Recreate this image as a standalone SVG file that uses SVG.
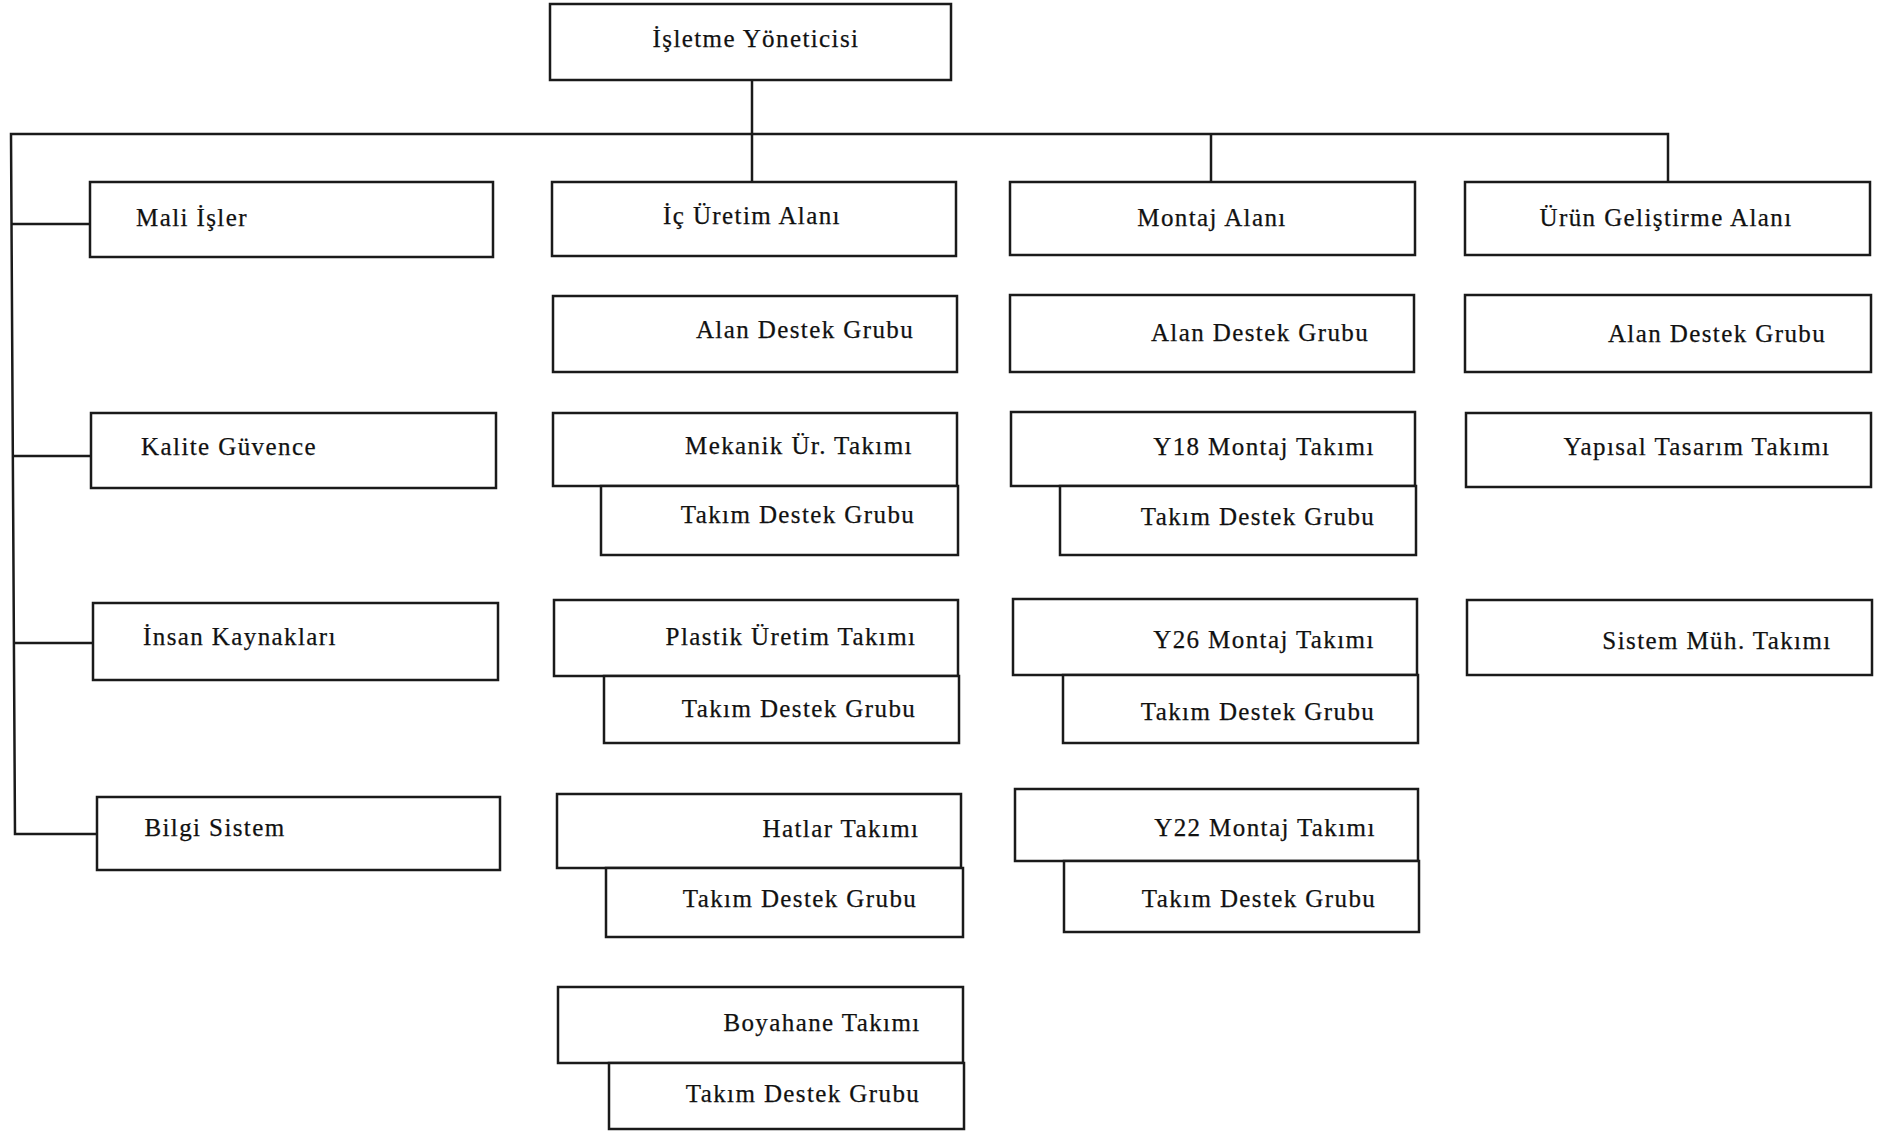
<svg xmlns="http://www.w3.org/2000/svg" width="1881" height="1131" viewBox="0 0 1881 1131">
  <style>
    .box { fill: #ffffff; stroke: #1a1a1a; stroke-width: 2.5; }
    .wire { fill: none; stroke: #1a1a1a; stroke-width: 2.5; stroke-linejoin: miter; }
    .lbl { font-family: "Liberation Serif", "Times New Roman", serif; font-size: 25px; letter-spacing: 1.4px; fill: #111111; stroke: #111111; stroke-width: 0.25; text-anchor: middle; }
  </style>
  <rect width="1881" height="1131" fill="#ffffff"/>

  <!-- connectors -->
  <g id="connectors">
    <path class="wire" d="M752,80 V182"/>
    <path class="wire" d="M1668,182 V134 H11 L15,834 H97"/>
    <path class="wire" d="M1211,134 V182"/>
    <path class="wire" d="M12,224 H90"/>
    <path class="wire" d="M13,456 H91"/>
    <path class="wire" d="M14,643 H93"/>
  </g>

  <!-- top -->
  <g id="isletme-yoneticisi">
    <rect class="box" x="550" y="4" width="401" height="76"/>
    <text class="lbl" x="756" y="47">İşletme Yöneticisi</text>
  </g>

  <!-- staff units, left column -->
  <g id="mali-isler">
    <rect class="box" x="90" y="182" width="403" height="75"/>
    <text class="lbl" x="192" y="226">Mali İşler</text>
  </g>
  <g id="kalite-guvence">
    <rect class="box" x="91" y="413" width="405" height="75"/>
    <text class="lbl" x="229" y="455">Kalite Güvence</text>
  </g>
  <g id="insan-kaynaklari">
    <rect class="box" x="93" y="603" width="405" height="77"/>
    <text class="lbl" x="240" y="645">İnsan Kaynakları</text>
  </g>
  <g id="bilgi-sistem">
    <rect class="box" x="97" y="797" width="403" height="73"/>
    <text class="lbl" x="215" y="836">Bilgi Sistem</text>
  </g>

  <!-- İç Üretim column -->
  <g id="ic-uretim-alani">
    <rect class="box" x="552" y="182" width="404" height="74"/>
    <text class="lbl" x="752" y="224">İç Üretim Alanı</text>
  </g>
  <g id="ic-uretim-alan-destek">
    <rect class="box" x="553" y="296" width="404" height="76"/>
    <text class="lbl" x="805" y="338">Alan Destek Grubu</text>
  </g>
  <g id="mekanik-ur-takimi">
    <rect class="box" x="553" y="413" width="404" height="73"/>
    <text class="lbl" x="799" y="454">Mekanik Ür. Takımı</text>
  </g>
  <g id="mekanik-takim-destek">
    <rect class="box" x="601" y="486" width="357" height="69"/>
    <text class="lbl" x="798" y="523">Takım Destek Grubu</text>
  </g>
  <g id="plastik-uretim-takimi">
    <rect class="box" x="554" y="600" width="404" height="76"/>
    <text class="lbl" x="791" y="645">Plastik Üretim Takımı</text>
  </g>
  <g id="plastik-takim-destek">
    <rect class="box" x="604" y="676" width="355" height="67"/>
    <text class="lbl" x="799" y="717">Takım Destek Grubu</text>
  </g>
  <g id="hatlar-takimi">
    <rect class="box" x="557" y="794" width="404" height="74"/>
    <text class="lbl" x="841" y="837">Hatlar Takımı</text>
  </g>
  <g id="hatlar-takim-destek">
    <rect class="box" x="606" y="868" width="357" height="69"/>
    <text class="lbl" x="800" y="907">Takım Destek Grubu</text>
  </g>
  <g id="boyahane-takimi">
    <rect class="box" x="558" y="987" width="405" height="76"/>
    <text class="lbl" x="822" y="1031">Boyahane Takımı</text>
  </g>
  <g id="boyahane-takim-destek">
    <rect class="box" x="609" y="1063" width="355" height="66"/>
    <text class="lbl" x="803" y="1102">Takım Destek Grubu</text>
  </g>

  <!-- Montaj column -->
  <g id="montaj-alani">
    <rect class="box" x="1010" y="182" width="405" height="73"/>
    <text class="lbl" x="1212" y="226">Montaj Alanı</text>
  </g>
  <g id="montaj-alan-destek">
    <rect class="box" x="1010" y="295" width="404" height="77"/>
    <text class="lbl" x="1260" y="341">Alan Destek Grubu</text>
  </g>
  <g id="y18-montaj-takimi">
    <rect class="box" x="1011" y="412" width="404" height="74"/>
    <text class="lbl" x="1264" y="455">Y18 Montaj Takımı</text>
  </g>
  <g id="y18-takim-destek">
    <rect class="box" x="1060" y="486" width="356" height="69"/>
    <text class="lbl" x="1258" y="525">Takım Destek Grubu</text>
  </g>
  <g id="y26-montaj-takimi">
    <rect class="box" x="1013" y="599" width="404" height="76"/>
    <text class="lbl" x="1264" y="648">Y26 Montaj Takımı</text>
  </g>
  <g id="y26-takim-destek">
    <rect class="box" x="1063" y="675" width="355" height="68"/>
    <text class="lbl" x="1258" y="720">Takım Destek Grubu</text>
  </g>
  <g id="y22-montaj-takimi">
    <rect class="box" x="1015" y="789" width="403" height="72"/>
    <text class="lbl" x="1265" y="836">Y22 Montaj Takımı</text>
  </g>
  <g id="y22-takim-destek">
    <rect class="box" x="1064" y="861" width="355" height="71"/>
    <text class="lbl" x="1259" y="907">Takım Destek Grubu</text>
  </g>

  <!-- Ürün Geliştirme column -->
  <g id="urun-gelistirme-alani">
    <rect class="box" x="1465" y="182" width="405" height="73"/>
    <text class="lbl" x="1666" y="226">Ürün Geliştirme Alanı</text>
  </g>
  <g id="urun-alan-destek">
    <rect class="box" x="1465" y="295" width="406" height="77"/>
    <text class="lbl" x="1717" y="342">Alan Destek Grubu</text>
  </g>
  <g id="yapisal-tasarim-takimi">
    <rect class="box" x="1466" y="413" width="405" height="74"/>
    <text class="lbl" x="1697" y="455">Yapısal Tasarım Takımı</text>
  </g>
  <g id="sistem-muh-takimi">
    <rect class="box" x="1467" y="600" width="405" height="75"/>
    <text class="lbl" x="1717" y="649">Sistem Müh. Takımı</text>
  </g>
</svg>
